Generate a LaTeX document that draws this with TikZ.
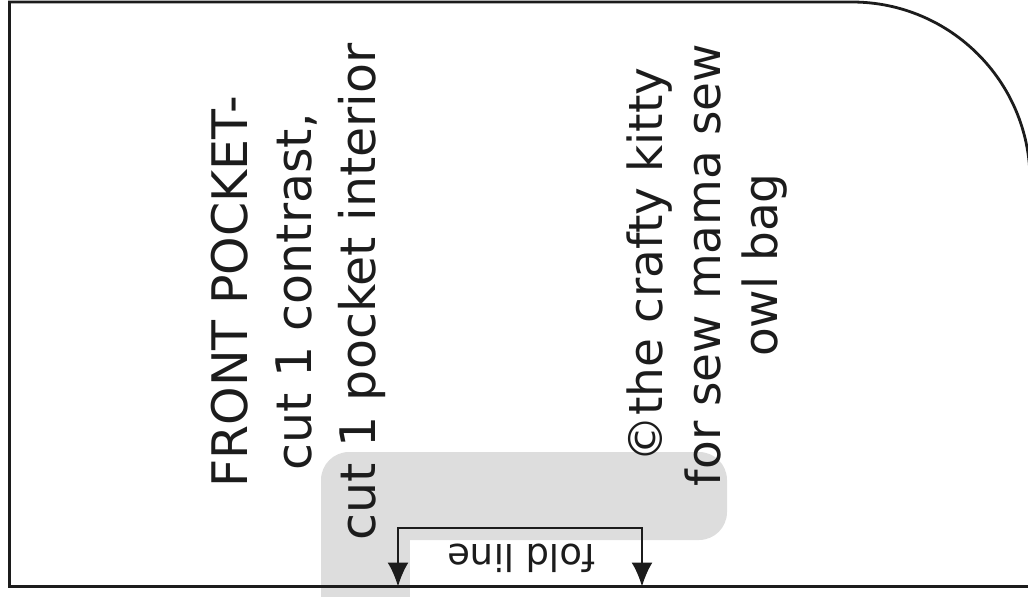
\documentclass[tikz,border=0pt]{standalone}
\usepackage{fontspec}
\setmainfont{DejaVu Sans}
\usepackage{tikz}
\usetikzlibrary{positioning,arrows.meta}
\definecolor{foldgrey}{HTML}{DDDDDD}
\definecolor{ink}{HTML}{1C1C1C}

\begin{document}
\begin{tikzpicture}[x=0.5pt, y=0.5pt,
    piece/.style={draw=ink, line width=1.4pt},
    piecetext/.style={rotate=90, inner sep=0pt, align=center, text=ink},
    foldarrow/.style={draw=ink, line width=1pt, {Latex[length=12pt,width=10.5pt]}-{Latex[length=12pt,width=10.5pt]}}
]
\useasboundingbox (0,0) rectangle (1028,596);
% grey fold strip
\fill[foldgrey, rounded corners=14pt] (321,56) rectangle (727,144);
\fill[foldgrey] (321,-10) rectangle (410,100);
% pattern piece outline
\draw[piece] (9.5,9.5) -- (9.5,594) -- (852,594)
    arc[start angle=90, end angle=0, radius=89pt] -- (1030,9.5) -- cycle;
% labels
\node[piecetext, font=\fontsize{24.5}{32}\selectfont](title) at (298,304)
    {FRONT POCKET-\\cut 1 contrast,\\cut 1 pocket interior};
\node[piecetext, font=\fontsize{23.5}{28.75}\selectfont](credit) at (707.5,331)
    {©the crafty kitty\\for sew mama sew\\owl bag};
% fold line
\coordinate (foldL) at (398,9.5);
\coordinate (foldR) at (642,9.5);
\coordinate (foldtopL) at (398,68);
\coordinate (foldtopR) at (642,68);
\draw[foldarrow] (foldL) -- (foldtopL) -- (foldtopR) -- (foldR);
\node[rotate=180, inner sep=0pt, text=ink, font=\fontsize{18.5}{20}\selectfont](foldlabel) at (521.5,37.5) {fold line};
\end{tikzpicture}
\end{document}
